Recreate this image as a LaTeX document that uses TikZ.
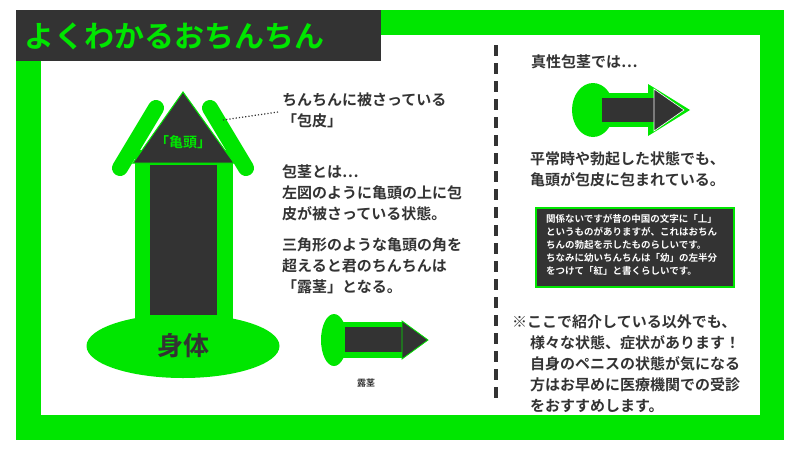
\documentclass[tikz,border=0pt]{standalone}
\usepackage{fontspec}
\setmainfont{Noto Sans CJK JP}[BoldFont={Noto Sans CJK JP Bold}]
\usetikzlibrary{shapes.geometric}
\definecolor{gr}{HTML}{00E600}
\definecolor{dk}{HTML}{333333}
\tikzset{
  txt/.style={anchor=west,inner sep=0pt,font=\bfseries\fontsize{15}{21}\selectfont,text=dk,align=left},
  small/.style={anchor=north west,inner sep=0pt,font=\bfseries\fontsize{9.5}{13}\selectfont,text=white,align=left},
}
\begin{document}
\begin{tikzpicture}[x=1pt,y=-1pt]
\useasboundingbox (0,0) rectangle (800,450);
\fill[white] (0,0) rectangle (800,450);
% frame
\fill[gr] (16,10) rectangle (784,440);
\fill[white] (41,35) rectangle (760,415);
\fill[dk] (16,10) rectangle (381,61);
\node[anchor=west,inner sep=0pt,text=gr,font=\bfseries\fontsize{30}{30}\selectfont] (title) at (24,36) {よくわかるおちんちん};
% big arrow
\draw[gr,line width=16pt,line cap=round] (156,108) -- (120,168);
\draw[gr,line width=16pt,line cap=round] (210,108) -- (246,168);
\fill[gr] (135,150) rectangle (233,325);
\node[ellipse,fill=gr,minimum width=193pt,minimum height=64pt,inner sep=0pt,text=dk,font=\bfseries\fontsize{26}{26}\selectfont] (body) at (183,346) {身体};
\fill[dk] (150,165) rectangle (217,315);
\draw[gr,line width=1pt,fill=dk] (183,92) -- (234,163) -- (133,163) -- cycle;
\node[text=gr,font=\bfseries\fontsize{14}{14}\selectfont,inner sep=0pt] (glans) at (183,142) {「亀頭」};
\coordinate (foreskin) at (223,120);
\node[txt] (t1) at (282,110) {ちんちんに被さっている\\「包皮」};
\draw[dk,dotted,line width=1.2pt] (foreskin) -- (278,112);
\node[txt] (t2) at (282,193) {包茎とは…\\左図のように亀頭の上に包\\皮が被さっている状態。};
\node[txt] (t3) at (282,266) {三角形のような亀頭の角を\\超えると君のちんちんは\\「露茎」となる。};
% small arrow exposed
\node[ellipse,fill=gr,minimum width=26pt,minimum height=52pt,inner sep=0pt] (e2) at (334,340) {};
\fill[gr] (334,322) rectangle (404,358);
\fill[dk] (345,327) rectangle (403,352);
\draw[gr,line width=0.8pt,fill=dk] (402,321) -- (428,340) -- (402,359) -- cycle;
\node[inner sep=0pt,text=dk,font=\bfseries\fontsize{9}{9}\selectfont] (lbl) at (366,383) {露茎};
% divider
\coordinate (d1) at (496,45);
\coordinate (d2) at (496,405);
\draw[dk,line width=4pt,dash pattern=on 11pt off 7pt] (d1) -- (d2);
% right
\node[txt] (t4) at (531,62) {真性包茎では…};
\node[ellipse,fill=gr,minimum width=42pt,minimum height=54pt,inner sep=0pt] (e3) at (593,110) {};
\fill[gr] (593,93) rectangle (660,127);
\fill[gr] (648,84) -- (690,110) -- (648,136) -- cycle;
\fill[dk] (602,98) rectangle (656,122);
\draw[white,line width=0.6pt,fill=dk] (654,89) -- (684,110) -- (654,131) -- cycle;
\node[txt] (t5) at (530,169) {平常時や勃起した状態でも、\\亀頭が包皮に包まれている。};
\draw[gr,line width=1.2pt,fill=dk] (536,208) rectangle (734,287);
\node[small] (t6) at (546,214) {関係ないですが昔の中国の文字に「丄」\\というものがありますが、これはおちん\\ちんの勃起を示したものらしいです。\\ちなみに幼いちんちんは「幼」の左半分\\をつけて「紅」と書くらしいです。};
\node[txt] (t7) at (512,322) {※ここで紹介している以外でも、};
\node[txt] (t8) at (530,374) {様々な状態、症状があります！\\自身のペニスの状態が気になる\\方はお早めに医療機関での受診\\をおすすめします。};
\end{tikzpicture}
\end{document}
